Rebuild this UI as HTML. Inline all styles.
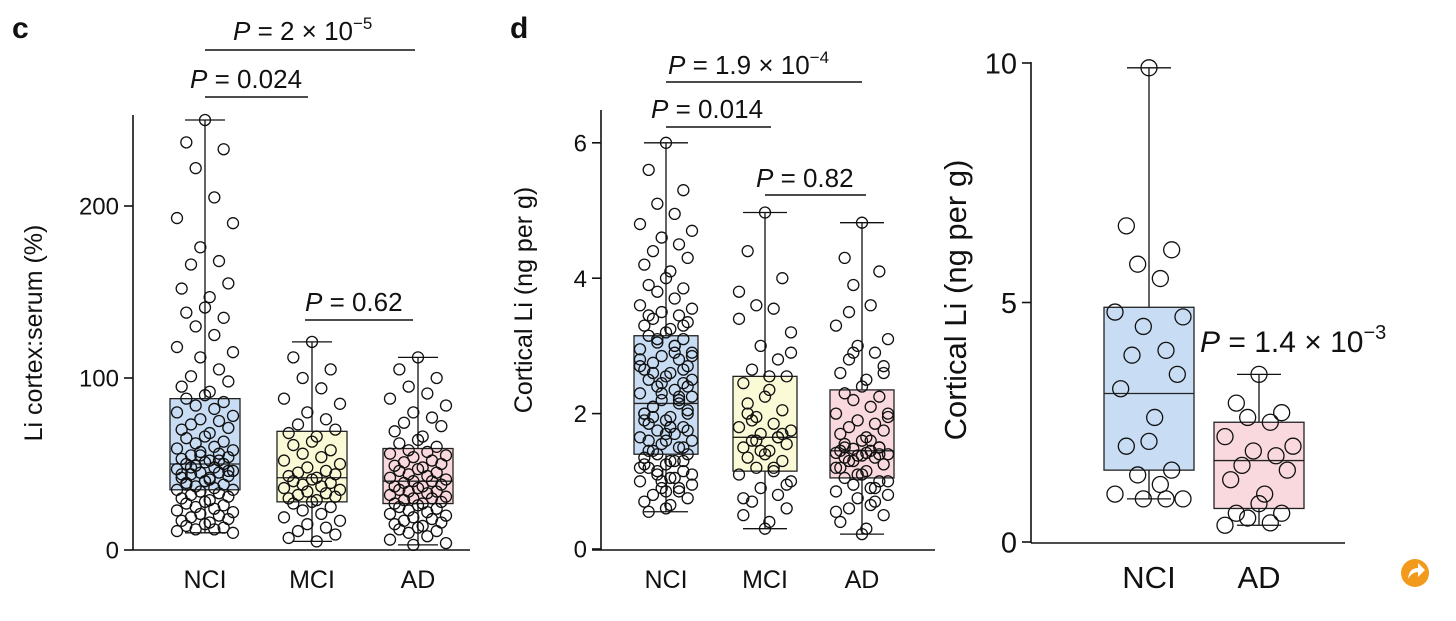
<!DOCTYPE html>
<html><head><meta charset="utf-8">
<style>
html,body{margin:0;padding:0;background:#fff;}
svg{display:block;font-family:"Liberation Sans",Arial,sans-serif;}
</style></head>
<body>
<svg id="chart" width="1456" height="621" viewBox="0 0 1456 621"></svg>
<script>
// ---- Panel c data (Li cortex:serum %) ----
const cCategories = ["NCI","MCI","AD"];
const cTicks = [0,100,200];
const cBoxes = [ // [whiskLow, q1, median, q3, whiskHigh]
  [10,35,50,88,250],
  [5,28,42,69,121],
  [3,27,40,59,112]
];
const cNCI = [250,237,233,222,205,193,190,176,168,166,155,152,147,141,138,135,130,125,118,115,112,105,101,98,95,92,90,88,86,84,82,80,78,76,75,73,71,70,68,66,65,63,62,60,59,58,57,56,55,54,53,52,51,50,50,49,48,47,46,45,45,44,43,42,41,40,39,38,37,36,35,35,34,33,32,31,30,29,28,27,26,25,24,23,22,21,20,19,18,17,16,15,14,13,12,12,11,10,55,52,48,46,44,42,40,38];
const cMCI = [121,112,105,100,94,88,85,80,76,73,70,68,66,63,61,58,56,54,52,50,48,46,45,44,43,42,41,40,39,38,37,36,35,34,33,32,31,30,29,28,27,25,23,21,19,17,15,13,11,9,7,5];
const cAD = [112,105,100,95,91,88,84,80,77,74,72,69,66,64,62,60,58,57,56,55,54,52,51,50,49,48,47,46,45,44,43,42,41,40,40,39,38,37,37,36,35,34,34,33,32,31,30,30,29,28,27,27,26,25,24,23,22,21,20,19,18,17,16,15,14,13,12,11,10,8,6,4,3];

// ---- Panel d data (Cortical Li ng/g) ----
const dCategories = ["NCI","MCI","AD"];
const dTicks = [0,2,4,6];
const dBoxes = [
  [0.55,1.4,2.15,3.15,6.0],
  [0.3,1.15,1.65,2.55,4.97],
  [0.22,1.05,1.45,2.35,4.82]
];
const dNCI = [6.0,5.6,5.3,5.1,4.95,4.8,4.7,4.6,4.5,4.4,4.3,4.2,4.1,4.0,3.9,3.85,3.8,3.7,3.6,3.55,3.5,3.45,3.4,3.35,3.3,3.25,3.2,3.15,3.1,3.05,3.0,2.95,2.9,2.85,2.8,2.75,2.7,2.65,2.6,2.55,2.5,2.45,2.4,2.35,2.3,2.25,2.2,2.15,2.1,2.05,2.0,1.95,1.9,1.85,1.8,1.75,1.7,1.65,1.6,1.55,1.5,1.45,1.4,1.35,1.3,1.25,1.2,1.15,1.1,1.05,1.0,0.95,0.9,0.85,0.8,0.75,0.7,0.65,0.6,0.55,3.3,3.1,2.9,2.7,2.5,2.3,2.2,2.1,2.0,1.9,1.8,1.7,1.6,1.5,1.4,1.3,1.2,1.1,1.0,0.9,2.6,2.4,2.0,1.8,1.6,1.45,1.3,1.15,3.0,2.8,2.85,2.45,2.25,1.95,1.75,1.25,1.05,0.85,3.45,2.65];
const dMCI = [4.97,4.4,4.0,3.6,3.55,3.4,3.2,3.0,2.8,2.65,2.55,2.45,2.35,2.25,2.15,2.05,1.95,1.85,1.8,1.75,1.7,1.65,1.6,1.55,1.5,1.45,1.4,1.35,1.3,1.2,1.15,1.1,1.0,0.9,0.8,0.7,0.6,0.5,0.4,0.3,2.0,1.7,1.6,1.2,3.8,2.9,1.45,1.65,1.9,0.95,0.75,2.55];
const dAD = [4.82,4.3,4.1,3.9,3.6,3.3,3.1,3.0,2.9,2.8,2.7,2.6,2.5,2.4,2.3,2.25,2.2,2.1,2.0,1.95,1.9,1.85,1.8,1.75,1.7,1.65,1.6,1.55,1.5,1.48,1.45,1.42,1.4,1.38,1.35,1.3,1.25,1.2,1.15,1.1,1.05,1.0,0.95,0.9,0.85,0.8,0.75,0.7,0.6,0.5,0.4,0.3,0.22,1.5,1.4,1.3,1.6,1.2,2.0,1.1,0.9,3.5,2.6,1.45,1.42,1.38,1.35,1.5,2.9,0.65,0.55,1.0];

// ---- Panel e data ----
const eCategories = ["NCI","AD"];
const eTicks = [0,5,10];
const eBoxes = [
  [0.9,1.5,3.1,4.9,9.9],
  [0.35,0.7,1.7,2.5,3.5]
];
const eNCI = [9.9,6.6,6.1,5.8,5.5,4.8,4.7,4.5,4.0,3.9,3.5,3.2,2.6,2.1,2.0,1.5,1.4,1.2,1.0,0.9,0.9,0.9];
const eAD = [3.5,2.9,2.7,2.6,2.5,2.2,2.0,1.9,1.8,1.6,1.5,1.3,1.0,0.8,0.6,0.6,0.5,0.4,0.35];

const NS="http://www.w3.org/2000/svg";
const svg=document.getElementById('chart');
function mk(tag,attrs,parent,text){const e=document.createElementNS(NS,tag);for(const k in attrs)e.setAttribute(k,attrs[k]);if(text!==undefined)e.textContent=text;(parent||svg).appendChild(e);return e;}
const fills=["#c8dcf3","#fbfad6","#f9d9de"];
const jit=[0,-2,2,-1,1,-3,3,-0.5,1.5,-1.5,2.5,-2.5,0.5];

function panel(cfg){
  const g=mk('g',{});
  
  
  const y=v=>cfg.y0-(v-cfg.vmin)*cfg.scale;
  const ya=mk('line',{x1:cfg.ax,y1:cfg.ytop,x2:cfg.ax,y2:cfg.xaY,stroke:'#111','stroke-width':1.6},g);
  
  const xa=mk('line',{x1:cfg.xaL,y1:cfg.xaY,x2:cfg.xaR,y2:cfg.xaY,stroke:'#111','stroke-width':1.6},g);
  
  cfg.ticks.forEach(t=>{
    const tl=mk('line',{x1:cfg.ax-9,y1:y(t),x2:cfg.ax,y2:y(t),stroke:'#111','stroke-width':1.6},g);
    
    const tx=mk('text',{x:cfg.ax-14,y:y(t)+cfg.fs*0.36,'text-anchor':'end','font-size':cfg.fs,fill:'#111'},g,String(t));
    
  });
  const yl=mk('text',{x:0,y:0,transform:`translate(${cfg.ylx},${cfg.yly}) rotate(-90)`,'text-anchor':'middle','font-size':cfg.yfs,fill:'#111'},g,cfg.ylabel);
  
  cfg.cats.forEach((c,i)=>{
    const cx=cfg.cx[i],b=cfg.boxes[i],hw=cfg.bw/2;
    const bg=mk('g',{},g);
    
    mk('line',{x1:cx,y1:y(b[0]),x2:cx,y2:y(b[4]),stroke:'#111','stroke-width':1.3},bg);
    mk('line',{x1:cx-cfg.cap,y1:y(b[0]),x2:cx+cfg.cap,y2:y(b[0]),stroke:'#111','stroke-width':1.3},bg);
    mk('line',{x1:cx-cfg.cap,y1:y(b[4]),x2:cx+cfg.cap,y2:y(b[4]),stroke:'#111','stroke-width':1.3},bg);
    mk('rect',{x:cx-hw,y:y(b[3]),width:cfg.bw,height:y(b[1])-y(b[3]),fill:fills[cfg.fi[i]],stroke:'#222','stroke-width':1.3},bg);
    mk('line',{x1:cx-hw,y1:y(b[2]),x2:cx+hw,y2:y(b[2]),stroke:'#222','stroke-width':1.3},bg);
    const pts=cfg.pts[i];
    pts.forEach((v,j)=>{
      const off=jit[j%jit.length]/3*cfg.spread;
      const p=mk('circle',{cx:cx+off,cy:y(v),r:cfg.r,fill:'none',stroke:'#111','stroke-width':1.3},bg);
      
    });
    const xl=mk('text',{x:cx,y:cfg.xly,'text-anchor':'middle','font-size':cfg.xfs,fill:'#111'},g,c);
    
  });
}

panel({name:'panel-c',ax:133,ytop:115,xaY:550,xaL:133,xaR:470,y0:550,vmin:0,scale:1.72,ticks:cTicks,fs:24,
  ylabel:'Li cortex:serum (%)',ylx:42,yly:333,yfs:25,cats:cCategories,cx:[205,312,418],bw:70,cap:20,boxes:cBoxes,
  fi:[0,1,2],pts:[cNCI,cMCI,cAD],spread:28,r:5.5,xly:588,xfs:25});
panel({name:'panel-d',ax:601,ytop:110,xaY:550,xaL:592,xaR:935,y0:549,vmin:0,scale:67.7,ticks:dTicks,fs:24,
  ylabel:'Cortical Li (ng per g)',ylx:532,yly:300,yfs:25,cats:dCategories,cx:[666,765,862],bw:64,cap:22,boxes:dBoxes,
  fi:[0,1,2],pts:[dNCI,dMCI,dAD],spread:26,r:5.5,xly:588,xfs:25});
panel({name:'panel-e',ax:1031,ytop:62,xaY:543,xaL:1031,xaR:1345,y0:542,vmin:0,scale:47.9,ticks:eTicks,fs:29,
  ylabel:'Cortical Li (ng per g)',ylx:966,yly:300,yfs:31,cats:eCategories,cx:[1149,1259],bw:90,cap:22,boxes:eBoxes,
  fi:[0,2],pts:[eNCI,eAD],spread:34,r:8,xly:588,xfs:31});

const lc=mk('text',{x:12,y:38,'font-size':30,'font-weight':'bold',fill:'#111'},svg,'c');

const ld=mk('text',{x:510,y:38,'font-size':30,'font-weight':'bold',fill:'#111'},svg,'d');

</script>
<svg style="position:absolute;left:0;top:0" width="1456" height="621">
  <g font-family="Liberation Sans, Arial, sans-serif" fill="#111">
    <text x="233" y="40" font-size="26"><tspan font-style="italic">P</tspan> = 2 × 10<tspan font-size="17" dy="-11">−5</tspan></text>
    <line x1="205" y1="50" x2="415" y2="50" stroke="#111" stroke-width="1.6"/>
    <text x="190" y="88" font-size="26"><tspan font-style="italic">P</tspan> = 0.024</text>
    <line x1="205" y1="97" x2="308" y2="97" stroke="#111" stroke-width="1.6"/>
    <text x="305" y="311" font-size="26"><tspan font-style="italic">P</tspan> = 0.62</text>
    <line x1="305" y1="320" x2="413" y2="320" stroke="#111" stroke-width="1.6"/>
    <text x="668" y="74" font-size="26"><tspan font-style="italic">P</tspan> = 1.9 × 10<tspan font-size="17" dy="-11">−4</tspan></text>
    <line x1="666" y1="82" x2="862" y2="82" stroke="#111" stroke-width="1.6"/>
    <text x="651" y="118" font-size="26"><tspan font-style="italic">P</tspan> = 0.014</text>
    <line x1="666" y1="127" x2="771" y2="127" stroke="#111" stroke-width="1.6"/>
    <text x="756" y="187" font-size="26"><tspan font-style="italic">P</tspan> = 0.82</text>
    <line x1="765" y1="195" x2="866" y2="195" stroke="#111" stroke-width="1.6"/>
    <text x="1200" y="352" font-size="30"><tspan font-style="italic">P</tspan> = 1.4 × 10<tspan font-size="20" dy="-13">−3</tspan></text>
  </g>
  <g>
    <circle cx="1415" cy="573" r="14" fill="#f29a1c"/>
    <path d="M1408 579 Q1409 568 1418 568 L1418 563 L1425 570 L1418 577 L1418 572 Q1412 572 1408 579 Z" fill="#fff"/>
  </g>
</svg>
</body></html>
